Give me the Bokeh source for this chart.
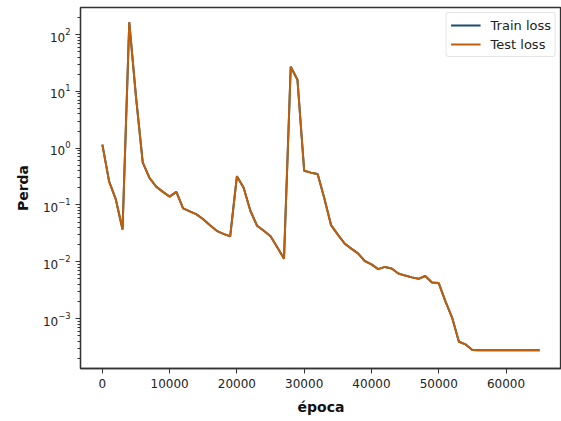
from bokeh.plotting import figure
from bokeh.models import Range1d, FixedTicker, Legend, LegendItem
from bokeh.embed import file_html
from bokeh.resources import INLINE

epochs = [0, 1000, 2000, 3000, 4000, 5000, 6000, 7000, 8000, 9000,
          10000, 11000, 12000, 13000, 14000, 15000, 16000, 17000, 18000, 19000,
          20000, 21000, 22000, 23000, 24000, 25000, 26000, 27000, 28000, 29000,
          30000, 31000, 32000, 33000, 34000, 35000, 36000, 37000, 38000, 39000,
          40000, 41000, 42000, 43000, 44000, 45000, 46000, 47000, 48000, 49000,
          50000, 51000, 52000, 53000, 54000, 55000, 56000, 57000, 58000, 59000,
          60000, 61000, 62000, 63000, 64000, 65000]

test_loss = [1.15, 0.26, 0.125, 0.037, 165, 8.0, 0.56, 0.30, 0.21, 0.17,
             0.14, 0.17, 0.087, 0.077, 0.068, 0.056, 0.044, 0.035, 0.031, 0.028,
             0.32, 0.20, 0.079, 0.043, 0.035, 0.028, 0.018, 0.0113, 27, 16,
             0.40, 0.37, 0.35, 0.13, 0.044, 0.030, 0.021, 0.017, 0.014, 0.0103,
             0.0090, 0.0074, 0.0081, 0.0076, 0.0062, 0.0057, 0.0053, 0.0050, 0.0056, 0.0043,
             0.0042, 0.0020, 0.00103, 0.00039, 0.00035, 0.00028, 0.000275, 0.000275, 0.000275, 0.000275,
             0.000275, 0.000275, 0.000275, 0.000275, 0.000275, 0.000275]

train_loss = [1.15, 0.26, 0.125, 0.037, 165, 8.0, 0.56, 0.30, 0.21, 0.17,
              0.14, 0.17, 0.087, 0.077, 0.068, 0.056, 0.044, 0.035, 0.031, 0.028,
              0.32, 0.20, 0.079, 0.043, 0.035, 0.028, 0.018, 0.0113, 27, 16,
              0.40, 0.37, 0.35, 0.13, 0.044, 0.030, 0.021, 0.017, 0.014, 0.0103,
              0.0090, 0.0074, 0.0081, 0.0076, 0.0062, 0.0057, 0.0053, 0.0050, 0.0056, 0.0043,
              0.0042, 0.0020, 0.00103, 0.00039, 0.00035, 0.00028, 0.000275, 0.000275, 0.000275, 0.000275,
              0.000275, 0.000275, 0.000275, 0.000275, 0.000275, 0.000275]

x_ticks = [0, 10000, 20000, 30000, 40000, 50000, 60000]
y_decades = [-3, -2, -1, 0, 1, 2]

FONT = "DejaVu Sans"

p = figure(width=561, height=421, output_backend="svg", toolbar_location=None,
           y_axis_type="log",
           x_range=Range1d(-3250, 68250),
           y_range=Range1d(10 ** -3.88, 10 ** 2.476),
           min_border_left=80, min_border_right=0, min_border_top=7, min_border_bottom=53)

p.xgrid.visible = False
p.ygrid.visible = False
p.outline_line_color = "#333333"
p.outline_line_width = 1.3
p.background_fill_color = "white"
p.border_fill_color = "white"

p.xaxis.ticker = FixedTicker(ticks=x_ticks)
major = [10.0 ** d for d in y_decades]
minor = [m * 10.0 ** d for d in range(-4, 3) for m in range(2, 10)]
p.yaxis.ticker = FixedTicker(ticks=major, minor_ticks=minor)

for ax in (p.xaxis[0], p.yaxis[0]):
    ax.axis_line_color = "#333333"
    ax.axis_line_width = 1.3
    ax.major_tick_line_color = "#333333"
    ax.minor_tick_line_color = "#333333"
    ax.major_tick_out = 5
    ax.major_tick_in = 0
    ax.major_label_text_font = FONT
    ax.major_label_text_font_size = "12px"
    ax.major_label_text_color = "#222222"
    ax.axis_label_text_font = FONT
    ax.axis_label_text_font_size = "14px"
    ax.axis_label_text_font_style = "bold"
    ax.axis_label_text_color = "#111111"

p.xaxis.minor_tick_line_color = None
p.yaxis.minor_tick_out = 3
p.yaxis.minor_tick_in = 0
p.xaxis.axis_label = "época"
p.yaxis.axis_label = "Perda"
p.xaxis.axis_label_standoff = 8
p.yaxis.axis_label_standoff = 9
p.xaxis.major_label_standoff = 5
p.yaxis.major_label_standoff = 5

r_train = p.line(epochs, train_loss, line_color="#1b4f72", line_width=2)
r_test = p.line(epochs, test_loss, line_color="#bf5f0c", line_width=2)

legend = Legend(items=[LegendItem(label="Train loss", renderers=[r_train]),
                       LegendItem(label="Test loss", renderers=[r_test])],
                location="top_right")
legend.margin = 5
legend.padding = 4
legend.spacing = 3
legend.glyph_width = 30
legend.glyph_height = 16
legend.label_height = 16
legend.label_standoff = 10
legend.label_text_font = FONT
legend.label_text_font_size = "13px"
legend.label_text_color = "#222222"
legend.border_line_color = "#cccccc"
legend.border_line_width = 1
legend.border_radius = 3
legend.background_fill_alpha = 0.8
p.add_layout(legend)

open("out.html", "w").write(file_html(p, INLINE))
